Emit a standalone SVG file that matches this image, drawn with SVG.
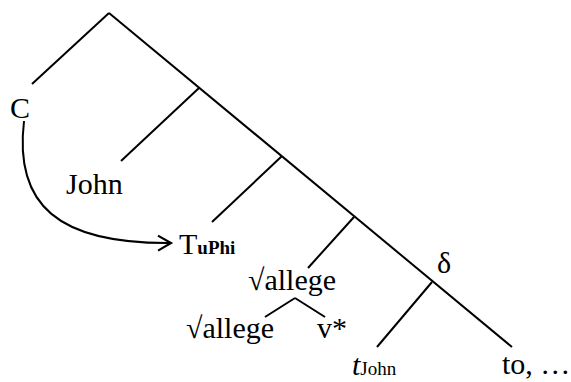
<svg xmlns="http://www.w3.org/2000/svg" width="571" height="382" viewBox="0 0 571 382">
<defs>
<style>
.t{font-size:30px;fill:#000}
.s{font-size:19px}
.b{font-weight:bold}
.i{font-style:italic}
.e{stroke:#000;stroke-width:2;fill:none}
</style>
<marker id="ah" markerWidth="18" markerHeight="18" refX="14" refY="9" orient="auto" markerUnits="userSpaceOnUse">
<path d="M1,1.5 L14,9 L1,16.5" fill="none" stroke="#000" stroke-width="2.2"/>
</marker>
</defs>
<rect width="571" height="382" fill="#fff"/>
<g id="connectors">
<line class="e" x1="109" y1="13" x2="512" y2="347"/>
<line class="e" x1="109" y1="13" x2="32" y2="84"/>
<line class="e" x1="199" y1="88" x2="121" y2="161"/>
<line class="e" x1="282" y1="156" x2="212" y2="222"/>
<line class="e" x1="354" y1="217" x2="308" y2="268"/>
<line class="e" x1="432" y1="282" x2="377" y2="347"/>
<line class="e" x1="295" y1="298" x2="265" y2="317"/>
<line class="e" x1="295" y1="298" x2="325" y2="317"/>
<path class="e" d="M24,121 C14,205 58,244 171,243" marker-end="url(#ah)"/>
</g>
<g font-family="Liberation Serif, serif">
<g id="C"><text class="t" x="10" y="117.5">C</text></g>
<g id="John"><text class="t" x="66" y="193.5">John</text></g>
<g id="T"><text class="t" x="179" y="254">T<tspan class="s b">uPhi</tspan></text></g>
<g id="allege-top"><text class="t" x="248" y="290">√allege</text></g>
<g id="allege-bottom"><text class="t" x="186" y="338">√allege</text></g>
<g id="vstar"><text class="t" x="317" y="338">v*</text></g>
<g id="delta"><text class="t" x="437" y="273">δ</text></g>
<g id="tJohn"><text class="t" x="352" y="375"><tspan class="i">t</tspan><tspan class="s">John</tspan></text></g>
<g id="to"><text class="t" x="502" y="374">to, …</text></g>
</g>
</svg>
